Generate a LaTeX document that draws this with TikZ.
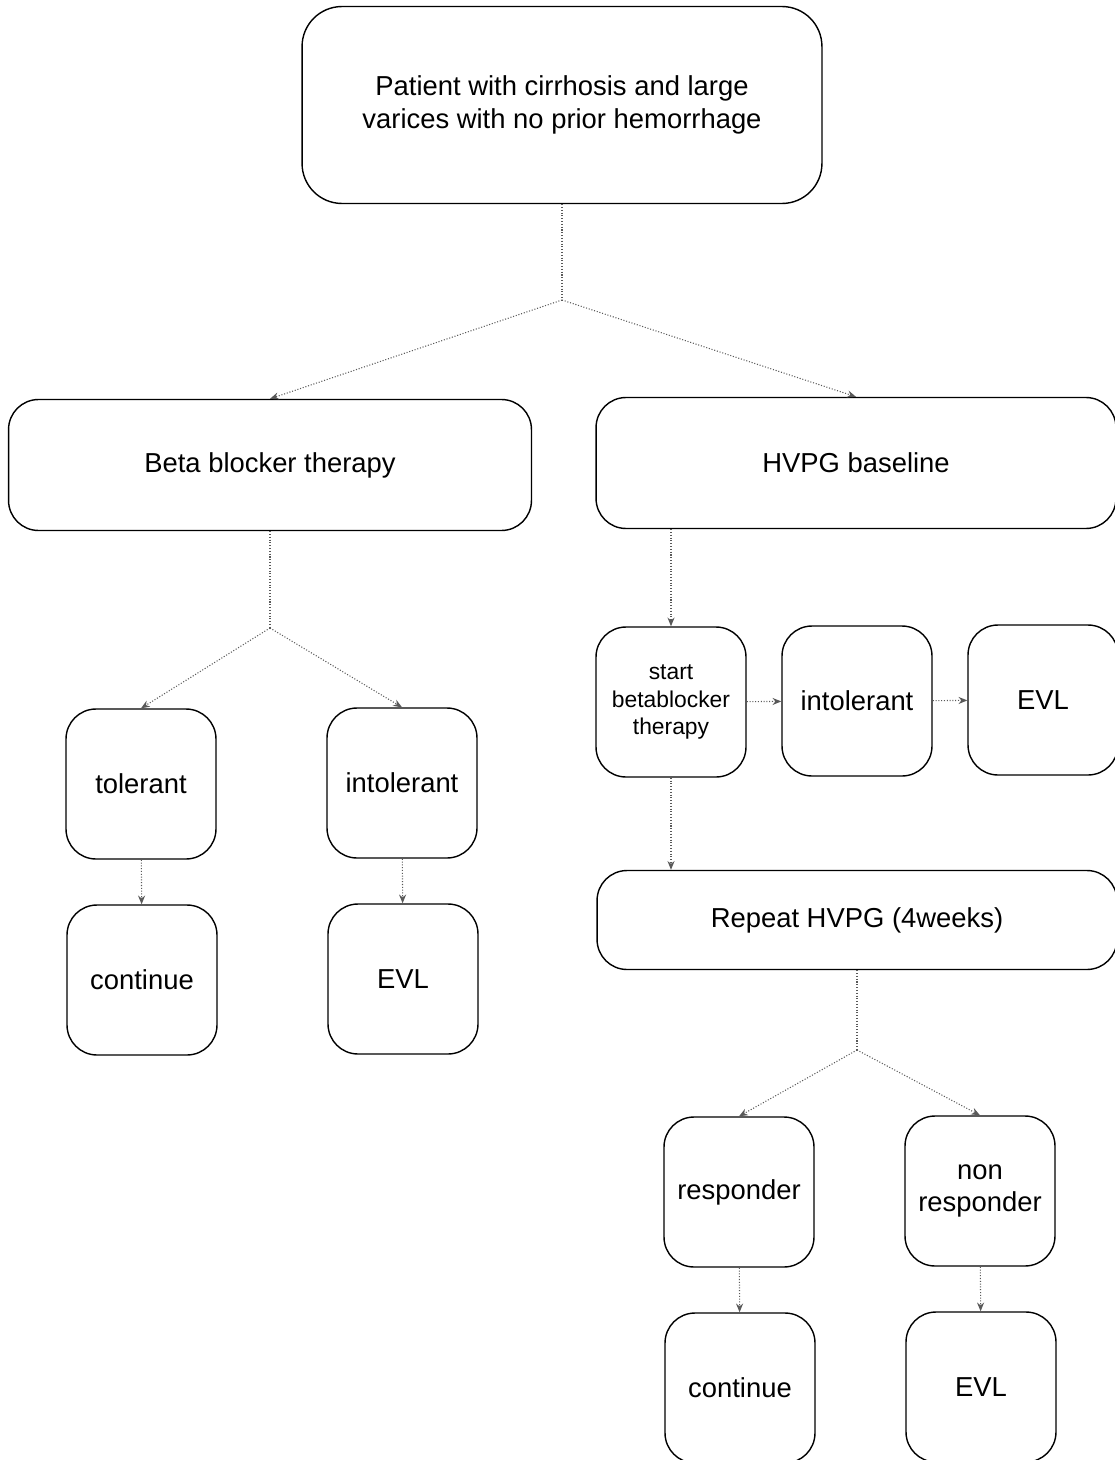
\documentclass[tikz,border=0pt]{standalone}
\usepackage{fontspec}
\setmainfont{Liberation Sans}
\usetikzlibrary{arrows.meta,calc,positioning}

\begin{document}
\begin{tikzpicture}[x=0.02cm, y=-0.02cm,
    box/.style={draw, line width=0.8pt, rounded corners=0.6cm, align=center,
      font=\fontsize{15.6}{18.4}\selectfont, inner sep=2pt},
    sq/.style={box, minimum width=3cm, minimum height=3cm},
    wide/.style={box, minimum width=10.4cm, minimum height=2.62cm},
    link/.style={gray!70!black, densely dotted, line width=0.6pt},
    arr/.style={link, -{Stealth[length=5pt,width=4pt]}}]
  \clip (0,0) rectangle (1115,1460);
  \node[box, minimum width=10.4cm, minimum height=3.94cm, rounded corners=0.8cm] (top) at (562,105)
    {Patient with cirrhosis and large\\varices with no prior hemorrhage};
  \node[wide, minimum width=10.46cm] (beta) at (270,465) {Beta blocker therapy};
  \node[wide] (hvpg) at (856,463) {HVPG baseline};
  % left branch
  \node[sq] (tol) at (141,784) {tolerant};
  \node[sq] (intolL) at (402,783) {intolerant};
  \node[sq] (contL) at (142,980) {continue};
  \node[sq] (evlL) at (403,979) {EVL};
  % right branch
  \node[sq, font=\fontsize{13}{15.6}\selectfont] (start) at (671,702) {start\\betablocker\\therapy};
  \node[sq] (intolR) at (857,701) {intolerant};
  \node[sq] (evlR) at (1043,700) {EVL};
  \node[wide, minimum height=1.98cm] (rep) at (857,920) {Repeat HVPG (4weeks)};
  \node[sq] (resp) at (739,1192) {responder};
  \node[sq] (nonresp) at (980,1191) {non\\responder};
  \node[sq] (contR) at (740,1388) {continue};
  \node[sq] (evlR2) at (981,1387) {EVL};

  \coordinate (s1) at (562,300);
  \coordinate (s2) at (270,628);
  \coordinate (s3) at (857,1050);
  \draw[link] (top.south) -- (s1);
  \draw[arr] (s1) -- (beta.north);
  \draw[arr] (s1) -- (hvpg.north);
  \draw[link] (beta.south) -- (s2);
  \draw[arr] (s2) -- (tol.north);
  \draw[arr] (s2) -- (intolL.north);
  \draw[arr] (tol) -- (contL);
  \draw[arr] (intolL) -- (evlL);
  \draw[arr] (hvpg.south -| start.north) -- (start.north);
  \draw[arr] (start) -- (intolR);
  \draw[arr] (intolR) -- (evlR);
  \draw[arr] (start.south) -- (start.south |- rep.north);
  \draw[link] (rep.south) -- (s3);
  \draw[arr] (s3) -- (resp.north);
  \draw[arr] (s3) -- (nonresp.north);
  \draw[arr] (resp) -- (contR);
  \draw[arr] (nonresp) -- (evlR2);
\end{tikzpicture}
\end{document}
